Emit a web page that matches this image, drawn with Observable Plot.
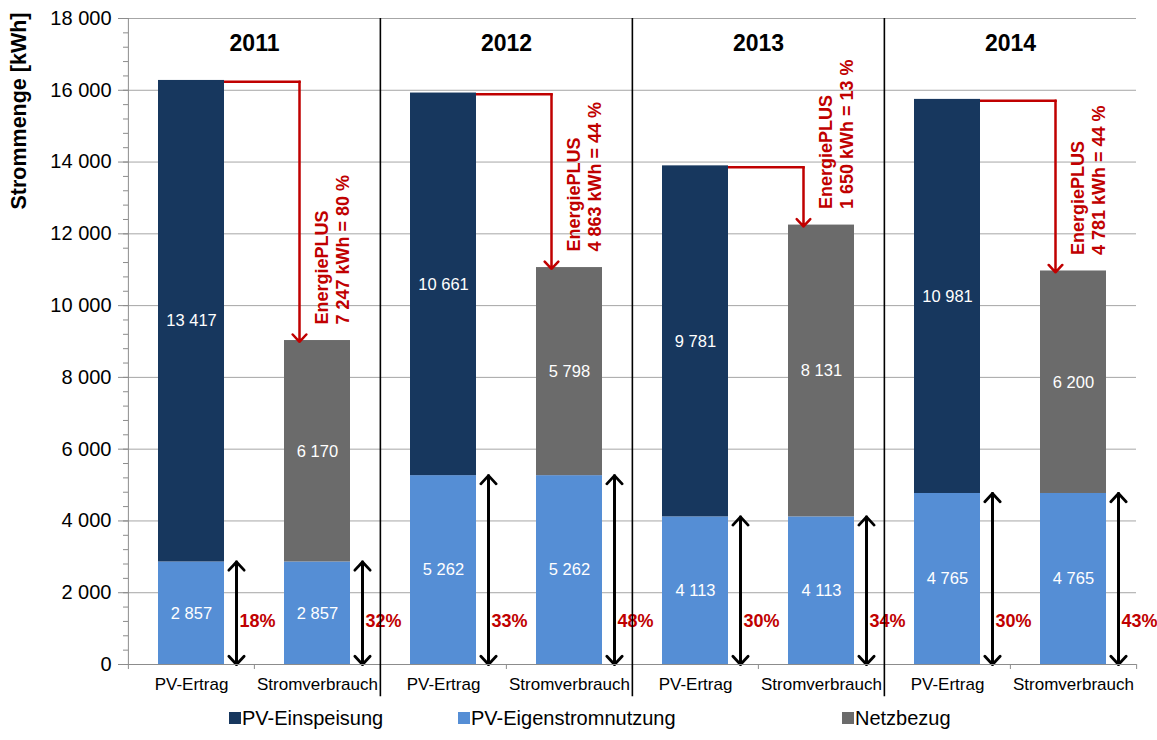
<!DOCTYPE html>
<html><head><meta charset="utf-8">
<script src="https://cdn.jsdelivr.net/npm/d3@7"></script>
<script src="https://cdn.jsdelivr.net/npm/@observablehq/plot@0.6"></script>
<style>
body{margin:0;background:#fff;font-family:"Liberation Sans",Arial,sans-serif;}
#legend{position:relative;width:1157px;height:40px;}
.item{position:absolute;top:6px;font-size:20px;color:#000;display:flex;align-items:center;line-height:24px;}
.sw{width:12px;height:12px;margin-right:1px;}
</style></head><body><div id="chart"></div><div id="legend"></div>
<script>
const years = ["2011", "2012", "2013", "2014"];
const categories = ["PV-Ertrag", "Stromverbrauch"];
const seriesNames = ["PV-Einspeisung", "PV-Eigenstromnutzung", "Netzbezug"];
const seriesColors = ["#17375E", "#558ED5", "#6B6B6B"];
const eigenstrom = [2857, 5262, 4113, 4765];
const einspeisung = [13417, 10661, 9781, 10981];
const netzbezug = [6170, 5798, 8131, 6200];
const plusKWh = [7247, 4863, 1650, 4781];
const plusPct = [80, 44, 13, 44];
const anteilErtrag = [18, 33, 30, 30];
const anteilVerbrauch = [32, 48, 34, 43];
const yTicks = [0, 2000, 4000, 6000, 8000, 10000, 12000, 14000, 16000, 18000];
const minorTicks = d3.range(0, 18001, 400);

const fmt = d3.formatLocale({thousands: " ", grouping: [3], decimal: ","}).format(",d");
const red = "#C00000";
const gray = "#8C8C8C";

// stacked rows
const rows = [];
const plusRows = [];
const pctRows = [];
years.forEach((year, i) => {
  const e = eigenstrom[i];
  rows.push({year, cat: categories[0], series: seriesNames[1], y1: 0, y2: e, value: e});
  rows.push({year, cat: categories[0], series: seriesNames[0], y1: e, y2: e + einspeisung[i], value: einspeisung[i]});
  rows.push({year, cat: categories[1], series: seriesNames[1], y1: 0, y2: e, value: e});
  rows.push({year, cat: categories[1], series: seriesNames[2], y1: e, y2: e + netzbezug[i], value: netzbezug[i]});
  plusRows.push({year, top: e + einspeisung[i], bottom: e + netzbezug[i], kwh: plusKWh[i], pct: plusPct[i]});
  pctRows.push({year, cat: categories[0], eigen: e, pct: anteilErtrag[i]});
  pctRows.push({year, cat: categories[1], eigen: e, pct: anteilVerbrauch[i]});
});

const W = 1157, H = 700, ML = 127, MR = 20, MT = 18, MB = 36;
const step = (W - ML - MR) / years.length / categories.length;
const pin = 1 - 66 / 126;
const font = "'Liberation Sans', Arial, sans-serif";
const head = {headAngle: 86, headLength: 6, insetStart: 0, insetEnd: 0};

const chart = Plot.plot({
  width: W, height: H,
  marginLeft: ML, marginRight: MR, marginTop: MT, marginBottom: MB,
  style: {fontFamily: font, background: "white", color: "black", overflow: "visible"},
  fx: {domain: years, padding: 0, axis: null},
  x: {domain: categories, paddingInner: pin, paddingOuter: pin / 2, round: false, axis: null, label: null},
  y: {domain: [0, 18000], label: null, axis: null},
  color: {domain: seriesNames, range: seriesColors},
  marks: [
    Plot.ruleY(yTicks.slice(1), {stroke: "#A6A6A6", strokeWidth: 1}),
    // red horizontal part of arrow (starts hidden under the bar)
    Plot.link(plusRows, {fx: "year", x1: () => categories[0], x2: () => categories[1], y1: "top", y2: "top", dx: -18, dy: 1.3, stroke: red, strokeWidth: 2.5, strokeLinecap: "square"}),
    Plot.barY(rows, {fx: "year", x: "cat", y1: "y1", y2: "y2", fill: "series"}),
    // red vertical part with head
    Plot.arrow(plusRows, {fx: "year", x1: () => categories[1], x2: () => categories[1], y1: "top", y2: "bottom", dx: -18, dy: 1.3, stroke: red, strokeWidth: 2.5, ...head}),
    Plot.text(rows, {fx: "year", x: "cat", y: d => (d.y1 + d.y2) / 2, text: d => fmt(d.value), fill: "white", fontSize: 16.5}),
    // black double arrows
    Plot.arrow(pctRows, {fx: "year", x1: "cat", x2: "cat", y1: 0, y2: "eigen", dx: 45, stroke: "black", strokeWidth: 2.8, ...head}),
    Plot.arrow(pctRows, {fx: "year", x1: "cat", x2: "cat", y1: "eigen", y2: 0, dx: 45, stroke: "black", strokeWidth: 2.8, ...head}),
    Plot.text(pctRows, {fx: "year", x: "cat", text: d => d.pct + "%", frameAnchor: "bottom", lineAnchor: "middle", dy: -43, dx: 48, textAnchor: "start", fill: red, fontWeight: "bold", fontSize: 18}),
    Plot.text(plusRows, {fx: "year", x: () => categories[1], y: "bottom", text: d => `EnergiePLUS\n${fmt(d.kwh)} kWh = ${d.pct} %`, rotate: -90, textAnchor: "start", lineAnchor: "middle", lineHeight: 1.2, dx: 14, dy: -16, fill: red, fontWeight: "bold", fontSize: 18}),
    Plot.text(years, {fx: d => d, text: d => d, frameAnchor: "top", lineAnchor: "middle", dy: 25, fontSize: 23, fontWeight: "bold"}),
    Plot.text([years[0]], {fx: d => d, text: () => "Strommenge [kWh]", frameAnchor: "top-left", rotate: -90, textAnchor: "end", lineAnchor: "middle", dx: -109, dy: -6, fontWeight: "bold", fontSize: 21.5}),
    // axes
    Plot.ruleY([0], {stroke: gray, strokeWidth: 1}),
    Plot.ruleX(categories, {x: d => d, y1: 0, y2: -140, dx: -step / 2, stroke: gray}),
    Plot.ruleX([years[years.length - 1]], {fx: d => d, x: () => categories[1], y1: 0, y2: -140, dx: step / 2, stroke: gray}),
    Plot.ruleX([years[0]], {fx: d => d, x: () => categories[0], y1: 0, y2: 18000, dx: -step / 2, stroke: gray}),
    Plot.axisX({tickSize: 0, tickPadding: 13, fontSize: 17, fill: "black", label: null}),
    Plot.axisY({ticks: minorTicks, tickSize: 5, tickFormat: () => "", stroke: gray, label: null}),
    Plot.axisY({ticks: yTicks, tickSize: 10, tickPadding: 7, tickFormat: fmt, fontSize: 20, stroke: gray, fill: "black", label: null}),
    // separators
    Plot.ruleX(years.slice(1), {fx: d => d, x: () => categories[0], y1: 18000, y2: -900, dx: -step / 2, stroke: "black", strokeWidth: 1.6})
  ]
});
document.getElementById("chart").appendChild(chart);

const legendLeft = [229, 458, 842];
const legend = document.getElementById("legend");
seriesNames.forEach((name, i) => {
  const item = document.createElement("div");
  item.className = "item";
  item.style.left = legendLeft[i] + "px";
  item.innerHTML = `<span class="sw" style="background:${seriesColors[i]}"></span><span>${name}</span>`;
  legend.appendChild(item);
});
</script>
</body></html>
